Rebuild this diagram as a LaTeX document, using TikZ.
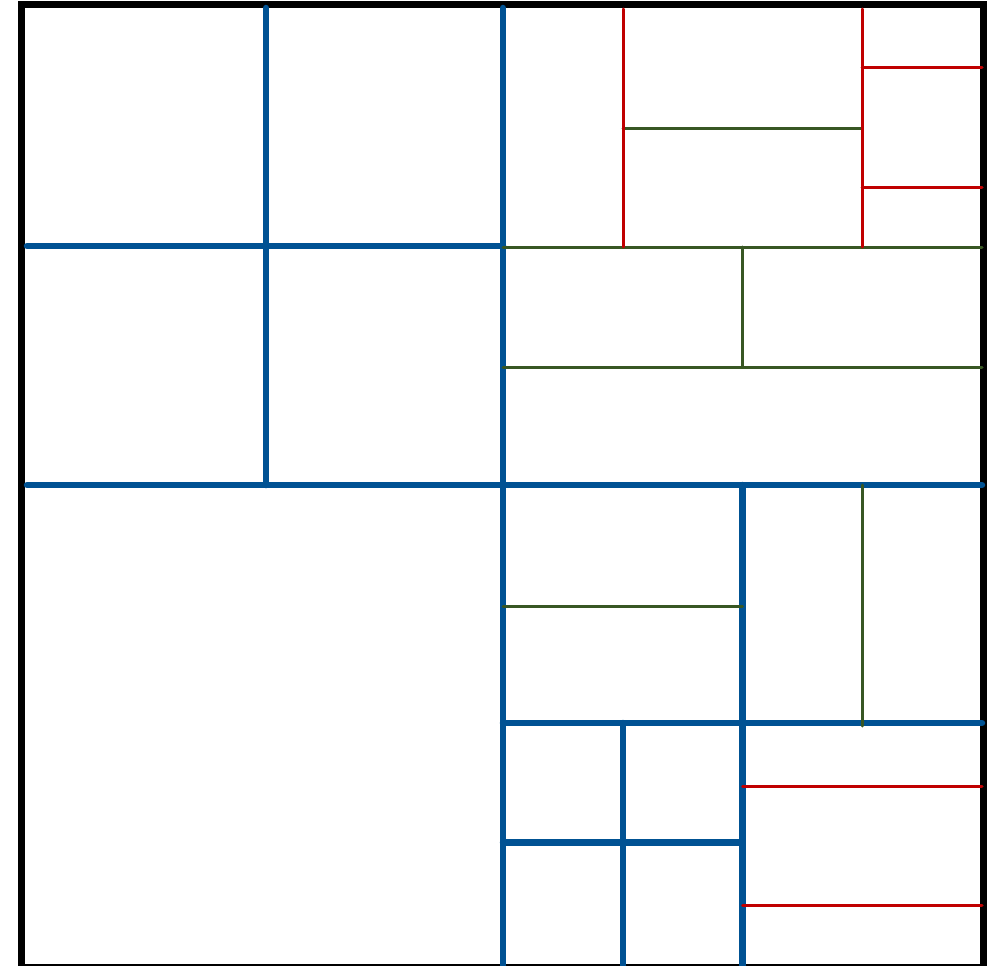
\documentclass[tikz,border=0pt]{standalone}
\definecolor{gridblue}{RGB}{0,82,147}
\definecolor{gridgreen}{RGB}{56,87,35}
\definecolor{gridred}{RGB}{192,0,0}
\begin{document}
\begin{tikzpicture}[x=1pt,y=-1pt,
  blueline/.style={draw=gridblue,line width=6.5pt,line cap=round},
  greenline/.style={draw=gridgreen,line width=3pt,line cap=round},
  redline/.style={draw=gridred,line width=3pt,line cap=round},
  frameline/.style={draw=black,line width=7pt}]
\useasboundingbox (0,0) rectangle (989,966);
% frame
\draw[frameline] (21,4.5) rectangle (983.5,967);
% blue partition
\draw[blueline] (266,8) -- (266,485);
\draw[blueline] (503,8) -- (503,967);
\draw[blueline] (27,246) -- (503,246);
\draw[blueline] (27,485) -- (982,485);
\draw[blueline] (742.5,485) -- (742.5,967);
\draw[blueline] (503,723) -- (982,723);
\draw[blueline] (623,723) -- (623,967);
\draw[blueline] (503,842.7) -- (742.5,842.7);
% green partition
\draw[greenline] (623,128) -- (862,128);
\draw[greenline] (503,247) -- (982,247);
\draw[greenline] (742.5,247) -- (742.5,367);
\draw[greenline] (503,367) -- (982,367);
\draw[greenline] (503,606) -- (742.5,606);
\draw[greenline] (862,485) -- (862,726);
% red partition
\draw[redline] (623,9) -- (623,247);
\draw[redline] (862,9) -- (862,247);
\draw[redline] (862,68) -- (982,68);
\draw[redline] (862,187) -- (982,187);
\draw[redline] (742.5,786) -- (982,786);
\draw[redline] (742.5,905) -- (982,905);
\end{tikzpicture}
\end{document}
